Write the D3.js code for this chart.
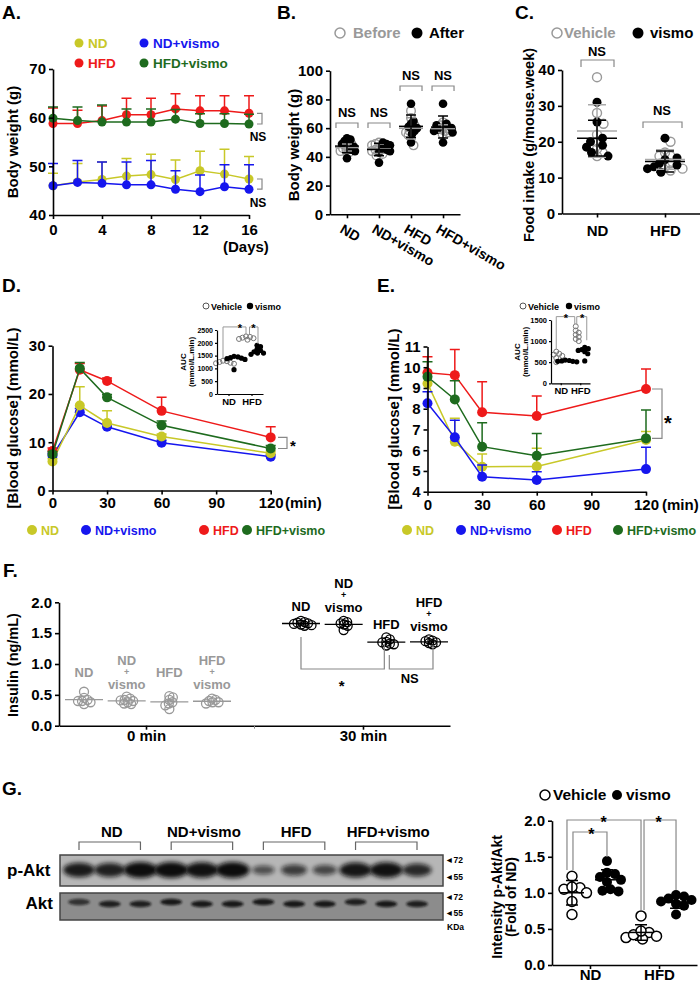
<!DOCTYPE html>
<html><head><meta charset="utf-8">
<script src="https://cdn.jsdelivr.net/npm/d3@7"></script>
<style>body{margin:0;background:#fff}</style>
</head><body>
<script>
const FONT = "'Liberation Sans', Arial, Helvetica, sans-serif";
// ================= DATA =================
const groups = ["ND","ND+vismo","HFD","HFD+vismo"];
const groupColors = ["#c8c828","#1616ee","#ee1a1a","#1e6b1e"];
// A: body weight over days
const daysA = [0,2,4,6,8,10,12,14,16];
const weightMean = [
  [46.0,46.8,47.3,48.0,48.3,47.3,49.1,48.4,47.4],
  [46.0,46.7,46.5,46.2,46.2,45.3,44.8,45.8,45.3],
  [58.8,58.8,59.4,60.6,60.6,61.8,61.4,61.4,60.9],
  [59.9,59.4,59.1,59.1,59.1,59.7,58.8,58.8,58.7]];
const weightSD = [
  [2.6,3.8,3.6,3.6,4.2,4.0,4.0,5.1,4.6],
  [4.6,4.5,4.4,4.7,5.0,3.8,3.4,4.5,5.0],
  [3.2,2.7,3.0,3.4,3.4,3.1,3.1,3.1,3.6],
  [2.3,2.8,3.5,2.7,2.7,2.0,2.0,2.0,2.0]];
const weightTicksY = [40,50,60,70];
const weightTicksX = [0,4,8,12,16];
// B: body weight before / after
const bBefore = [[44,45,47,48,50,43,46,49],[41,44,46,48,50,49,42,45],[48,55,58,62,67,72,60,57],[56,58,60,62,64,59,61,57]];
const bAfter  = [[39,45,47,51,52,53,49,44],[36,43,46,48,49,45,50,44],[50,56,60,63,65,77,58,61],[50,57,60,63,77,59,62,58]];
const bTicks = [0,20,40,60,80,100];
// C: food intake
const diets = ["ND","HFD"];
const foodVehicle = [[38,28,25,20,18,17,16,22],[20,16,13,12.5,14,17,12,16]];
const foodVismo   = [[31,25.5,17,16,18.5,19,20,21],[21,15,13,13.5,14,15.5,12.5,11.5]];
const foodTicks = [0,10,20,30,40];
// D: GTT
const timesGTT = [0,15,30,60,120];
const gttMean = [[6.0,17.6,14.0,11.2,7.7],[7.2,16.2,13.2,9.9,7.0],[8.2,25.0,22.7,16.5,11.0],[7.5,25.3,19.3,13.5,8.7]];
const gttSD   = [[0.6,3.9,2.5,0.5,0.5],[0.5,0.8,0.6,0.5,0.4],[0.6,1.3,0.6,2.8,2.2],[0.6,1.2,0.6,0.9,0.6]];
const gttTicksY = [0,10,20,30];
const minTicks = [0,30,60,90,120];
const aucGTTVehicle = [[1200,1250,1300,1220,1280,1180],[2150,2200,2250,2180,2230,2120]];
const aucGTTVismo   = [[1350,1400,1450,1420,1380,950,1470],[1550,1600,1700,1750,1850,1900,1650,1600]];
const aucGTTTicks = [0,500,1000,1500,2000,2500];
// E: ITT
const timesITT = [0,15,30,60,120];
const ittMean = [[9.22,6.41,5.20,5.22,6.49],[8.26,6.62,4.72,4.56,5.09],[9.73,9.62,7.83,7.65,8.95],[9.54,8.45,6.17,5.73,6.57]];
const ittSD   = [[0.5,1.13,0.62,0.87,0.41],[0.56,0.83,0.57,0.40,1.05],[0.77,1.24,1.47,0.96,0.96],[0.73,0.90,1.16,1.08,1.37]];
const ittTicksY = [4,5,6,7,8,9,10,11];
const aucITTVehicle = [[700,650,600,750,500,680],[1350,1250,1100,1050,1150,1000,1200]];
const aucITTVismo   = [[540,520,530,510,550,520],[850,800,750,700,820,530,780]];
const aucITTTicks = [0,500,1000,1500];
// F: insulin
const insulinTimes = ["0 min","30 min"];
const insulin0  = [[0.35,0.38,0.40,0.42,0.45,0.55,0.40],[0.35,0.38,0.40,0.42,0.44,0.47,0.36,0.41],[0.27,0.33,0.38,0.42,0.46,0.48,0.36],[0.36,0.38,0.40,0.42,0.44,0.38]];
const insulin30 = [[1.62,1.64,1.66,1.68,1.70,1.65,1.67,1.63],[1.55,1.62,1.66,1.70,1.68,1.64],[1.30,1.33,1.36,1.40,1.43,1.35,1.32],[1.32,1.35,1.37,1.40,1.38,1.34]];
const insulinTicks = [0,0.5,1.0,1.5,2.0];
// G: p-Akt / Akt
const aktVehicle = [[1.23,1.07,1.05,1.08,0.88,0.70,1.0],[0.68,0.45,0.40,0.38,0.36,0.42,0.47]];
const aktVismo   = [[1.44,1.26,1.22,1.28,1.18,1.15,1.02,1.05,1.03],[0.97,0.95,0.92,0.90,0.85,0.82,0.70,0.88]];
const aktTicks = [0,0.5,1.0,1.5,2.0];
const pAktBand = [0.85,0.8,1.0,1.0,0.95,1.0,0.3,0.5,0.4,0.9,0.95,0.7];
const aktBand  = [0.7,0.85,0.85,0.9,0.9,0.9,0.9,0.9,0.9,0.85,0.9,0.85];
const kdaMarks = ["72","55"];

// ================= HELPERS =================
const svg = d3.select("body").append("svg").attr("width",700).attr("height",984)
  .attr("font-family",FONT).attr("font-weight","bold");
svg.append("rect").attr("width",700).attr("height",984).attr("fill","#fff");
const defs = svg.append("defs");
const f1 = defs.append("filter").attr("id","blur1").attr("x","-50%").attr("y","-100%").attr("width","200%").attr("height","300%");
f1.append("feGaussianBlur").attr("stdDeviation",2.2);
const f2 = defs.append("filter").attr("id","blur2").attr("x","-50%").attr("y","-100%").attr("width","200%").attr("height","300%");
f2.append("feGaussianBlur").attr("stdDeviation",1.2);
const fmtInt = d3.format("d"), fmt1 = d3.format(".1f");

function T(x,y,s,fs,opt={}){
  const t = svg.append("text").attr("x",x).attr("y",y).text(s).attr("font-size",fs)
    .attr("fill",opt.fill||"#000").attr("text-anchor",opt.anchor||"start");
  if(opt.rot!=null) t.attr("transform",`rotate(${opt.rot},${x},${y})`);
  return t;
}
function P(d,stroke="#888",w=1.2){
  return svg.append("path").attr("d",d).attr("fill","none").attr("stroke",stroke).attr("stroke-width",w);
}
function styleAxis(g,fs,w=1.6){
  g.select(".domain").attr("stroke","#000").attr("stroke-width",w);
  g.selectAll(".tick line").attr("stroke","#000").attr("stroke-width",w);
  g.selectAll(".tick text").attr("font-size",fs).attr("font-family",FONT).attr("font-weight","bold").attr("fill","#000");
}
function axL(x0,sc,ticks,fs,ts=4,fmt=fmtInt,w=1.6,pad=3){
  const a=d3.axisLeft(sc).tickValues(ticks).tickSize(ts).tickSizeOuter(0).tickPadding(pad).tickFormat(fmt);
  const g=svg.append("g").attr("transform",`translate(${x0},0)`).call(a); styleAxis(g,fs,w); return g;
}
function axB(y0,sc,ticks,fs,ts=4,pad=4,w=1.6,fmt=null){
  const a=d3.axisBottom(sc).tickSize(ts).tickSizeOuter(0).tickPadding(pad);
  if(ticks) a.tickValues(ticks);
  if(fmt) a.tickFormat(fmt);
  const g=svg.append("g").attr("transform",`translate(0,${y0})`).call(a); styleAxis(g,fs,w); return g;
}
function swarm(vals,yS,cx,sep){
  const pts=vals.map((v,i)=>({i,y:yS(v)}));
  const ord=pts.slice().sort((a,b)=>a.y-b.y);
  const placed=[],out=new Array(vals.length);
  ord.forEach(p=>{
    for(let k=0;k<600;k++){
      const dx=k===0?0:(k%2?1:-1)*Math.ceil(k/2)*0.5;
      const x=cx+dx;
      if(placed.every(q=>(q.x-x)**2+(q.y-p.y)**2>=sep*sep)){placed.push({x,y:p.y});out[p.i]=x;break;}
    }
  });
  return out;
}
function dots(xs,vals,yS,r,open,color,fillOpen="none",sw=1.4){
  svg.append("g").selectAll("circle").data(vals).join("circle")
    .attr("cx",(d,i)=>xs[i]).attr("cy",d=>yS(d)).attr("r",r)
    .attr("fill",open?fillOpen:color).attr("stroke",open?color:"none").attr("stroke-width",sw);
}
function meanSD(vals,cx,yS,hw,cw,color,w=1.5,sd=true){
  const m=d3.mean(vals),s=d3.deviation(vals);
  P(`M${cx-hw},${yS(m)}H${cx+hw}`,color,w);
  if(sd) P(`M${cx},${yS(m-s)}V${yS(m+s)}M${cx-cw},${yS(m+s)}H${cx+cw}M${cx-cw},${yS(m-s)}H${cx+cw}`,color,w);
}
function lineSeries(xs,means,sds,order,xS,yS,r){
  order.forEach(k=>{
    const m=means[k],s=sds[k],c=groupColors[k];
    xs.forEach((t,i)=>{const X=xS(t),Y0=yS(m[i]),Y1=yS(m[i]+s[i]);
      P(`M${X},${Y0}V${Y1}M${X-5},${Y1}H${X+5}`,c,1.5);});
    const pts=xs.map((t,i)=>[t,m[i]]);
    svg.append("path").datum(pts).attr("d",d3.line().x(d=>xS(d[0])).y(d=>yS(d[1])))
      .attr("fill","none").attr("stroke",c).attr("stroke-width",1.5);
    svg.append("g").selectAll("circle").data(pts).join("circle")
      .attr("cx",d=>xS(d[0])).attr("cy",d=>yS(d[1])).attr("r",r).attr("fill",c);
  });
}
const GRAY="#999";

// ================= PANEL A =================
T(2,19,"A.",19);
const xA=d3.scaleLinear([0,16],[53,249]), yA=d3.scaleLinear([40,70],[215,69]);
lineSeries(daysA,weightMean,weightSD,[0,2,1,3],xA,yA,4.5);
axL(53,yA,weightTicksY,15);
axB(215,xA,weightTicksX,15,4,5);
T(18,142,"Body weight (g)",15,{anchor:"middle",rot:-90});
T(223,252,"(Days)",15);
[[79,43],[144,43],[79,63],[144,63]].forEach((p,k)=>{
  svg.append("circle").attr("cx",p[0]).attr("cy",p[1]).attr("r",4.5).attr("fill",groupColors[k]);
  T(p[0]+9,p[1]+5,groups[k],13.5,{fill:groupColors[k]});
});
{
  const n=daysA.length-1;
  P(`M257,${yA(weightMean[2][n])}H262V${yA(weightMean[3][n])}H257`,"#888",1.2);
  T(258,141,"NS",12,{anchor:"middle"});
  P(`M257,${yA(weightMean[0][n])}H262V${yA(weightMean[1][n])}H257`,"#888",1.2);
  T(258,207,"NS",12,{anchor:"middle"});
}

// ================= PANEL B =================
T(277,19,"B.",19);
const yB=d3.scaleLinear([0,100],[214.3,70.7]);
const xB=d3.scalePoint(groups,[330,460]).padding(0.53);
groups.forEach((g,i)=>{
  const all=bBefore[i].concat(bAfter[i]);
  const xs=swarm(all,yB,xB(g),3.6);
  const nb=bBefore[i].length;
  dots(xs.slice(0,nb),bBefore[i],yB,4.3,true,GRAY);
  dots(xs.slice(nb),bAfter[i],yB,4.3,false,"#000");
  meanSD(bBefore[i],xB(g),yB,12,5,GRAY);
  meanSD(bAfter[i],xB(g),yB,12,5,"#000");
});
axL(330,yB,bTicks,15);
axB(214.3,xB,null,15,4,4,1.6,()=>"");
groups.forEach(g=>T(xB(g)-8,232,g,14,{rot:30}));
T(299,145,"Body weight (g)",15,{anchor:"middle",rot:-90});
svg.append("circle").attr("cx",340).attr("cy",33).attr("r",5).attr("fill","none").attr("stroke",GRAY).attr("stroke-width",1.5);
T(353,38,"Before",15,{fill:GRAY});
svg.append("circle").attr("cx",417).attr("cy",33).attr("r",5.5).attr("fill","#000");
T(429,38,"After",15);
[[0,123],[1,123],[2,86],[3,86]].forEach(([i,yb])=>{
  const x=xB(groups[i]);
  P(`M${x-11},${yb+5}V${yb}H${x+11}V${yb+5}`,"#888",1.2);
  T(x,yb-6,"NS",13,{anchor:"middle"});
});

// ================= PANEL C =================
T(515,19,"C.",19);
const yC=d3.scaleLinear([0,40],[213.5,70]);
const xC=d3.scalePoint(diets,[562,700]).padding(0.515);
diets.forEach((d,i)=>{
  const all=foodVehicle[i].concat(foodVismo[i]);
  const xs=swarm(all,yC,xC(d),6.5);
  const nv=foodVehicle[i].length;
  dots(xs.slice(0,nv),foodVehicle[i],yC,4.5,true,GRAY);
  dots(xs.slice(nv),foodVismo[i],yC,4.5,false,"#000");
  meanSD(foodVehicle[i],xC(d),yC,20,9,"#aaa");
  meanSD(foodVismo[i],xC(d),yC,20,9,"#000");
});
axL(562,yC,foodTicks,15);
axB(213.5,xC,null,15,4,8);
T(534,145,"Food intake (g/mouse.week)",14.5,{anchor:"middle",rot:-90});
svg.append("circle").attr("cx",557).attr("cy",33).attr("r",5).attr("fill","none").attr("stroke",GRAY).attr("stroke-width",1.5);
T(564,38,"Vehicle",15,{fill:GRAY});
svg.append("circle").attr("cx",638).attr("cy",33).attr("r",5.5).attr("fill","#000");
T(650,38,"vismo",15);
P(`M581,67V60H614V67`,"#888",1.2); T(597,56,"NS",13,{anchor:"middle"});
P(`M643,128V122H682V128`,"#888",1.2); T(662,115,"NS",13,{anchor:"middle"});

// ================= PANEL D =================
T(2,292,"D.",19);
const xD=d3.scaleLinear([0,120],[52.5,270.7]), yD=d3.scaleLinear([0,30],[490.5,345.7]);
lineSeries(timesGTT,gttMean,gttSD,[1,0,2,3],xD,yD,5);
axL(52.5,yD,gttTicksY,15);
axB(490.5,xD,minTicks,15,4,3);
T(285,508,"(min)",15);
T(18,418,"[Blood glucose] (mmol/L)",15,{anchor:"middle",rot:-90});
{
  const n=timesGTT.length-1;
  P(`M278,${yD(gttMean[2][n])}H287V${yD(gttMean[3][n])}H278`,"#888",1.2);
  T(290,451,"*",15);
}
[[32,0],[86,1],[204,2],[247,3]].forEach(([x,k])=>{
  svg.append("circle").attr("cx",x).attr("cy",530).attr("r",5).attr("fill",groupColors[k]);
  T(x+9,535,groups[k],12.5,{fill:groupColors[k]});
});
// inset D
{
  const yI=d3.scaleLinear([0,2500],[394,330]);
  const xI=d3.scalePoint(diets,[217,263]).padding(0.5);
  diets.forEach((d,i)=>{
    const xv=swarm(aucGTTVehicle[i],yI,xI(d)-5.5,3.6);
    const xm=swarm(aucGTTVismo[i],yI,xI(d)+5.5,3.6);
    dots(xv,aucGTTVehicle[i],yI,2.5,true,"#777","none",1);
    dots(xm,aucGTTVismo[i],yI,2.6,false,"#000");
  });
  axL(217,yI,aucGTTTicks,7,2,fmtInt,1.2,2);
  axB(394,xI,null,9.5,2,2,1.2);
  T(186,362,"AUC",8,{anchor:"middle",rot:-90});
  T(194,362,"(mmol/L.min)",8,{anchor:"middle",rot:-90});
  const a=xI("ND")-5.5, b=xI("HFD")-5.5, c=xI("HFD")+5.5;
  P(`M${a},${yI(1400)}V${yI(2620)}H${b}V${yI(2330)}`,"#999",1);
  P(`M${b+3.5},${yI(2330)}V${yI(2620)}H${c+1}V${yI(1960)}`,"#999",1);
  T(b-6,332,"*",11,{anchor:"middle"});
  T((b+c)/2+2,332,"*",11,{anchor:"middle"});
  svg.append("circle").attr("cx",206).attr("cy",306).attr("r",3).attr("fill","none").attr("stroke","#555").attr("stroke-width",1);
  T(211,309.5,"Vehicle",9);
  svg.append("circle").attr("cx",250).attr("cy",306).attr("r",3.2).attr("fill","#000");
  T(255,309.5,"vismo",9);
}

// ================= PANEL E =================
T(377,292,"E.",19);
const xE=d3.scaleLinear([0,120],[427.5,646]), yE=d3.scaleLinear([4,11],[491.7,346.5]);
lineSeries(timesITT,ittMean,ittSD,[0,1,2,3],xE,yE,5);
axL(427.5,yE,ittTicksY,15);
axB(491.7,xE,minTicks,15,4,4);
T(662,510,"(min)",15);
T(399,419,"[Blood glucose] (mmol/L)",15,{anchor:"middle",rot:-90});
{
  const n=timesITT.length-1;
  P(`M652,${yE(ittMean[2][n])}H662V${yE(ittMean[3][n])}H652`,"#888",1.2);
  T(668,430,"*",20,{anchor:"middle"});
}
[[407,0],[461,1],[557,2],[618,3]].forEach(([x,k])=>{
  svg.append("circle").attr("cx",x).attr("cy",530).attr("r",5).attr("fill",groupColors[k]);
  T(x+9,535,groups[k],12.5,{fill:groupColors[k]});
});
// inset E
{
  const yI=d3.scaleLinear([0,1500],[383.3,320]);
  const xI=d3.scalePoint(diets,[551,590]).padding(0.5);
  diets.forEach((d,i)=>{
    const xv=swarm(aucITTVehicle[i],yI,xI(d)-4.5,3.6);
    const xm=swarm(aucITTVismo[i],yI,xI(d)+4.5,3.6);
    dots(xv,aucITTVehicle[i],yI,2.5,true,"#777","none",1);
    dots(xm,aucITTVismo[i],yI,2.6,false,"#000");
  });
  axL(551,yI,aucITTTicks,7.5,2,fmtInt,1.2,2);
  axB(383.3,xI,null,9.5,2,2,1.2);
  T(520,352,"AUC",8,{anchor:"middle",rot:-90});
  T(528,352,"(mmol/L.min)",8,{anchor:"middle",rot:-90});
  const a=xI("ND")-4.5, b=xI("HFD")-4.5, c=xI("HFD")+4.5;
  P(`M${a},${yI(800)}V${yI(1580)}H${b-1}V${yI(1390)}`,"#999",1);
  P(`M${b+1},${yI(1390)}V${yI(1580)}H${c+2}V${yI(1020)}`,"#999",1);
  T((a+b)/2,322,"*",11,{anchor:"middle"});
  T((b+c)/2+2,322,"*",11,{anchor:"middle"});
  svg.append("circle").attr("cx",523).attr("cy",306).attr("r",3).attr("fill","none").attr("stroke","#555").attr("stroke-width",1);
  T(528,309.5,"Vehicle",9);
  svg.append("circle").attr("cx",569).attr("cy",306).attr("r",3.2).attr("fill","#000");
  T(574,309.5,"vismo",9);
}

// ================= PANEL F =================
T(3,577,"F.",19);
const yF=d3.scaleLinear([0,2],[725.7,602.3]);
const xF=d3.scalePoint(insulinTimes,[59,450]).padding(0.401);
const sub=d3.scalePoint(groups,[-62,66]);
[[insulin0,insulinTimes[0],GRAY,[677,689,677,689]],[insulin30,insulinTimes[1],"#000",[611,612,629,631]]].forEach(([data,t,col,ly])=>{
  groups.forEach((g,i)=>{
    const cx=xF(t)+sub(g);
    const xs=swarm(data[i],yF,cx,3.6);
    dots(xs,data[i],yF,4.5,true,col,"none",1.3);
    meanSD(data[i],cx,yF,19,4,col,1.3,false);
    const parts=g.split("+");
    if(parts.length===1) T(cx,ly[i],g,13,{anchor:"middle",fill:col});
    else{
      T(cx,ly[i]-24.5,parts[0],13,{anchor:"middle",fill:col});
      T(cx,ly[i]-13.8,"+",9,{anchor:"middle",fill:col});
      T(cx,ly[i],parts[1],13,{anchor:"middle",fill:col});
    }
  });
});
axL(59,yF,insulinTicks,15,4,fmt1);
axB(725.7,xF,null,15,4,1);
P(`M${(xF(insulinTimes[0])+xF(insulinTimes[1]))/2},725.7v3`,"#888",1);
T(18,665,"Insulin (ng/mL)",14.5,{anchor:"middle",rot:-90});
{
  const xa=xF(insulinTimes[1])+sub("ND"), xb=xF(insulinTimes[1])+sub("HFD"), xc=xF(insulinTimes[1])+sub("HFD+vismo");
  const yBr=669;
  P(`M${xa},637V${yBr}H${xb-2}V644`,"#888",1.2);
  P(`M${xb+3},655V${yBr}H${xc+4}V645`,"#888",1.2);
  T((xa+xb)/2-2,691,"*",15,{anchor:"middle"});
  T((xb+xc)/2+2,683,"NS",13,{anchor:"middle"});
}

// ================= PANEL G =================
T(2,795,"G.",19);
{
  const lane=d3.scalePoint(d3.range(12),[79,417]);
  svg.append("rect").attr("x",60).attr("y",855).attr("width",383).attr("height",31).attr("fill","#b6b6b6").attr("stroke","#444").attr("stroke-width",1.5);
  svg.append("rect").attr("x",60).attr("y",893).attr("width",383).attr("height",27).attr("fill","#8c8c8c").attr("stroke","#444").attr("stroke-width",1.5);
  const bg=svg.append("g");
  pAktBand.forEach((v,i)=>{
    bg.append("ellipse").attr("cx",lane(i)).attr("cy",870).attr("rx",9+8*v).attr("ry",3+5*v)
      .attr("fill","#111").attr("opacity",0.45+0.55*v).attr("filter","url(#blur1)");
  });
  aktBand.forEach((v,i)=>{
    bg.append("ellipse").attr("cx",lane(i)).attr("cy",903+(i%3===0?-1:1)).attr("rx",11).attr("ry",3.2)
      .attr("fill","#111").attr("opacity",v).attr("filter","url(#blur2)");
  });
  groups.forEach((g,k)=>{
    const x1=lane(3*k), x2=lane(3*k+2);
    P(`M${x1},850V842H${x2}V850`,"#666",1.2);
    T((x1+x2)/2+2,837,g,15,{anchor:"middle"});
  });
  T(7,876,"p-Akt",17);
  T(53,909,"Akt",17,{anchor:"end"});
  [[863,880],[900,916]].forEach(ys=>{
    ys.forEach((y,j)=>T(445,y,"\u25C4"+kdaMarks[j],8.5));
  });
  T(447,930,"KDa",8.5);
}
{
  const yG=d3.scaleLinear([0,2],[965,820.7]);
  const xG=d3.scalePoint(diets,[552,697]).padding(0.55);
  diets.forEach((d,i)=>{
    const cv=xG(d)-18, cm=xG(d)+17;
    const xv=swarm(aktVehicle[i],yG,cv,8), xm=swarm(aktVismo[i],yG,cm,8);
    dots(xv,aktVehicle[i],yG,5,true,"#000","#fff",1.5);
    dots(xm,aktVismo[i],yG,5,false,"#000");
    meanSD(aktVehicle[i],cv,yG,12,6,"#000");
    meanSD(aktVismo[i],cm,yG,12,6,"#000");
  });
  axL(552,yG,aktTicks,15,4,fmt1);
  axB(965,xG,null,15,4,0.5);
  T(502,897,"Intensity p-Akt/Akt",14,{anchor:"middle",rot:-90});
  T(516,897,"(Fold of ND)",14,{anchor:"middle",rot:-90});
  svg.append("circle").attr("cx",545).attr("cy",795).attr("r",5).attr("fill","#fff").attr("stroke","#000").attr("stroke-width",1.5);
  T(553,800,"Vehicle",15.5);
  svg.append("circle").attr("cx",617).attr("cy",795).attr("r",5).attr("fill","#000");
  T(626,800,"vismo",15.5);
  const ndv=xG("ND")-18, ndm=xG("ND")+17, hv=xG("HFD")-18, hm=xG("HFD")+17;
  P(`M${ndv-5},870V820H${hv}V910`,"#888",1.2);
  P(`M${ndv+1},870V832H${ndm}V857`,"#888",1.2);
  P(`M${hv+3},910V820H${hm}V890`,"#888",1.2);
  T((ndv+hv)/2-3,828,"*",16,{anchor:"middle"});
  T((ndv+ndm)/2+2,840,"*",16,{anchor:"middle"});
  T((hv+hm)/2,828,"*",16,{anchor:"middle"});
}
</script>
</body></html>
